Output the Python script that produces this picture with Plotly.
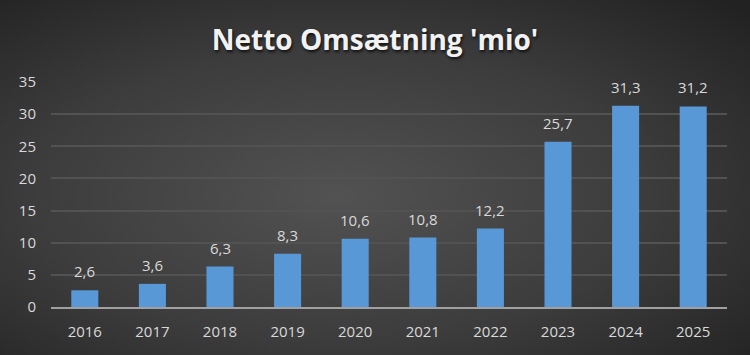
import base64
import plotly.graph_objects as go

years = ["2016", "2017", "2018", "2019", "2020", "2021", "2022", "2023", "2024", "2025"]
revenue = [2.6, 3.6, 6.3, 8.3, 10.6, 10.8, 12.2, 25.7, 31.3, 31.2]
y_ticks = [0, 5, 10, 15, 20, 25, 30, 35]
title_text = "Netto Omsætning 'mio'"

W, H = 750, 355
ML, MR, MT, MB = 51, 23, 82, 48

svg = f"""<svg xmlns='http://www.w3.org/2000/svg' width='{W}' height='{H}' viewBox='0 0 {W} {H}' preserveAspectRatio='none'>
<defs><radialGradient id='g' cx='0.45' cy='0.55' r='0.75' gradientUnits='objectBoundingBox'>
<stop offset='0' stop-color='#525252'/><stop offset='0.55' stop-color='#3c3c3c'/><stop offset='1' stop-color='#222222'/>
</radialGradient></defs><rect width='{W}' height='{H}' fill='url(#g)'/></svg>"""
bg_uri = "data:image/svg+xml;base64," + base64.b64encode(svg.encode()).decode()

pw, ph = W - ML - MR, H - MT - MB

fig = go.Figure()
fig.add_trace(go.Bar(
    x=years, y=revenue,
    marker=dict(color="#5898d6", line=dict(width=0)),
    hoverinfo="skip",
))

for i, v in enumerate(revenue):
    fig.add_annotation(
        x=i, y=v, text=f"{v:.1f}".replace(".", ","),
        showarrow=False, yanchor="bottom", yshift=7,
        font=dict(family="Open Sans", size=15, color="#d9d9d9"),
    )

fig.update_layout(
    width=W, height=H,
    margin=dict(l=ML, r=MR, t=MT, b=MB),
    paper_bgcolor="#2e2e2e",
    plot_bgcolor="rgba(0,0,0,0)",
    bargap=0.6,
    showlegend=False,
    title=dict(
        text=f"<b>{title_text}</b>",
        x=0.5, xanchor="center", y=1 - 40 / H, yanchor="middle",
        font=dict(family="Open Sans", size=28, color="#f2f2f2", shadow="1px 2px 3px #111111"),
    ),
    images=[dict(
        source=bg_uri, xref="paper", yref="paper",
        x=-ML / pw, y=1 + MT / ph, sizex=W / pw, sizey=H / ph,
        xanchor="left", yanchor="top", sizing="stretch", layer="below",
    )],
    xaxis=dict(
        type="category", range=[-0.5, len(years) - 0.5],
        showgrid=False, showline=True, linecolor="#a0a0a0", linewidth=2,
        ticks="", tickfont=dict(family="Open Sans", size=15, color="#d9d9d9"),
        ticklabelstandoff=10,
    ),
    yaxis=dict(
        range=[0, 35], tickvals=y_ticks, showgrid=True, gridcolor="#525252", gridwidth=1.5,
        zeroline=False, showline=False, ticks="",
        tickfont=dict(family="Open Sans", size=15, color="#d9d9d9"),
        ticklabelstandoff=14,
    ),
)

fig.write_html(
    "out.html",
    config={"displayModeBar": False},
    post_script="document.body.style.margin='0';document.body.style.background='#2e2e2e';",
)
